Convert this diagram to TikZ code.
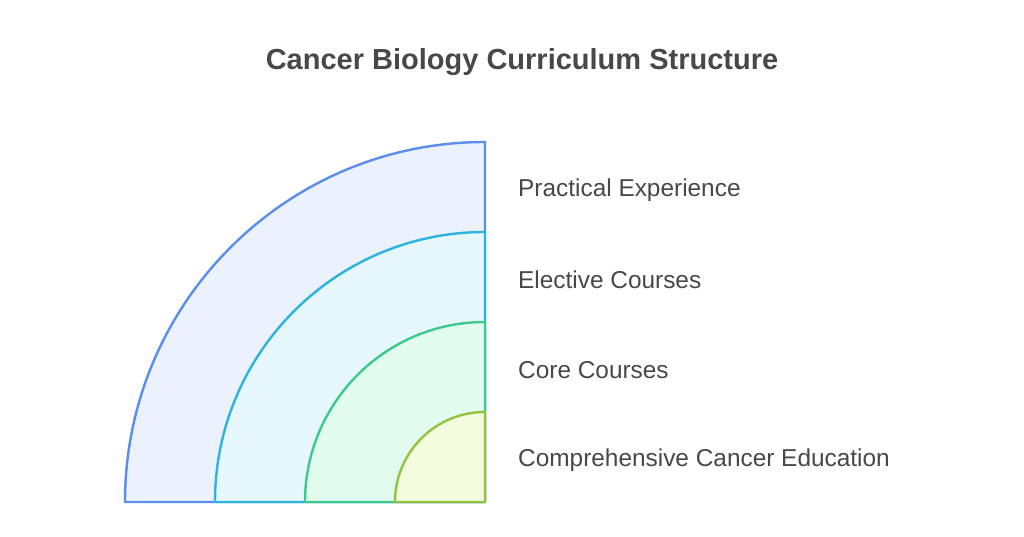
\documentclass[tikz,border=0pt]{standalone}
\usepackage{fontspec}
\setmainfont{Liberation Sans}
\definecolor{s1}{HTML}{5B8DEF}\definecolor{f1}{HTML}{EBF1FD}
\definecolor{s2}{HTML}{2DB3E0}\definecolor{f2}{HTML}{E6F7FD}
\definecolor{s3}{HTML}{3DC98C}\definecolor{f3}{HTML}{E1FBEF}
\definecolor{s4}{HTML}{96C23F}\definecolor{f4}{HTML}{F3FCDD}
\definecolor{txt}{HTML}{484848}
\begin{document}
\begin{tikzpicture}[x=1pt,y=1pt,
  ring/.style={line width=2.4pt,line join=round},
  lbl/.style={anchor=west,text=txt,font=\fontsize{24.4}{27}\selectfont,inner sep=0pt}]
\useasboundingbox (0,0) rectangle (1024,536);
\coordinate (c) at (485,34);
\foreach \r/\s/\f in {360/s1/f1,270/s2/f2,180/s3/f3,90/s4/f4}{
  \draw[ring,draw=\s,fill=\f] (c) -- ++(-\r,0) arc[start angle=180,end angle=90,radius=\r] -- cycle;
}
\node[font=\bfseries\fontsize{29}{32}\selectfont,text=txt] (title) at (522,474) {Cancer Biology Curriculum Structure};
\node[lbl] (l1) at (518,346) {Practical Experience};
\node[lbl] (l2) at (518,256) {Elective Courses};
\node[lbl] (l3) at (518,166) {Core Courses};
\node[lbl] (l4) at (518,76) {Comprehensive Cancer Education};
\end{tikzpicture}
\end{document}
